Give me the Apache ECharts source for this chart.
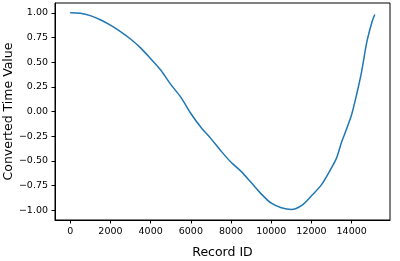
<!DOCTYPE html>
<html>
<head>
<meta charset="utf-8">
<script src="https://cdn.jsdelivr.net/npm/echarts@6/dist/echarts.min.js"></script>
<style>
  html, body { margin: 0; padding: 0; background: #fff; }
  #chart { width: 400px; height: 261px; }
</style>
</head>
<body>
<div id="chart"></div>
<script>
// record id -> converted time value
const recordIds = [0, 500, 1000, 1500, 2000, 2500, 3000, 3500, 4000, 4500, 5000, 5500, 6000,
  6500, 7000, 7500, 8000, 8500, 9000, 9500, 10000, 10500, 11000, 11500, 12000, 12500,
  13000, 13250, 13500, 13750, 14000, 14250, 14500, 14750, 15000, 15150]
const timeValues = [1.0, 0.995, 0.972, 0.93, 0.875, 0.81, 0.735, 0.645, 0.535, 0.42, 0.275, 0.145, -0.02,
  -0.16, -0.275, -0.4, -0.515, -0.607, -0.72, -0.835, -0.93, -0.975, -0.993, -0.955, -0.855, -0.742,
  -0.57, -0.47, -0.31, -0.175, -0.03, 0.175, 0.41, 0.7, 0.9, 0.983]
const xTicks = [0, 2000, 4000, 6000, 8000, 10000, 12000, 14000]
const yTicks = [-1, -0.75, -0.5, -0.25, 0, 0.25, 0.5, 0.75, 1]

const fontFamily = 'DejaVu Sans'
const chart = echarts.init(document.getElementById('chart'))

const fmtY = v => v.toFixed(2).replace('-', '\u2212')

chart.setOption({
  animation: false,
  grid: {
    left: 55,
    right: 10,
    top: 3,
    bottom: 41,
    outerBoundsMode: 'none',
    containLabel: false,
    show: true,
    borderColor: '#000',
    borderWidth: 1
  },
  xAxis: {
    type: 'value',
    min: -757,
    max: 15907,
    name: 'Record ID',
    nameLocation: 'middle',
    nameGap: 26,
    nameMoveOverlap: false,
    nameTextStyle: { color: '#000', fontSize: 12.5, fontFamily },
    axisLine: { show: true, onZero: false, lineStyle: { color: '#000', width: 1 } },
    axisTick: { show: true, length: 3.5, customValues: xTicks, lineStyle: { color: '#000' } },
    axisLabel: { customValues: xTicks, formatter: v => String(v), color: '#000', fontSize: 9.5, fontFamily, margin: 7 },
    splitLine: { show: false }
  },
  yAxis: {
    type: 'value',
    min: -1.1,
    max: 1.1,
    name: 'Converted Time Value',
    nameLocation: 'middle',
    nameGap: 40,
    nameMoveOverlap: false,
    nameTextStyle: { color: '#000', fontSize: 12.5, fontFamily },
    axisLine: { show: true, onZero: false, lineStyle: { color: '#000', width: 1 } },
    axisTick: { show: true, length: 3.5, customValues: yTicks, lineStyle: { color: '#000' } },
    axisLabel: { customValues: yTicks, formatter: fmtY, color: '#000', fontSize: 9.5, fontFamily, margin: 7 },
    splitLine: { show: false }
  },
  series: [
    {
      type: 'line',
      data: recordIds.map((x, i) => [x, timeValues[i]]),
      showSymbol: false,
      smooth: 0.3,
      lineStyle: { color: '#1f77b4', width: 1.5 }
    }
  ]
})
</script>
</body>
</html>
